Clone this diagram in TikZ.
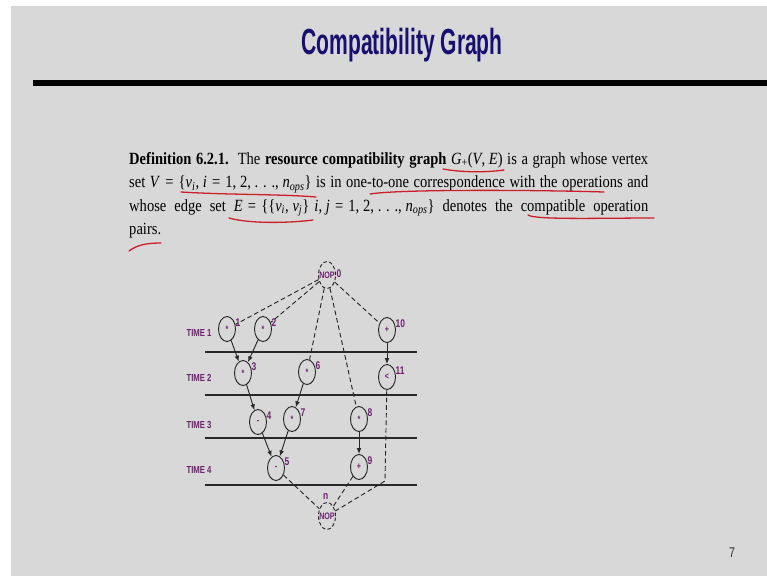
\documentclass[tikz,border=0pt]{standalone}
\usepackage{fontspec}
\setmainfont{Liberation Serif}[FakeStretch=0.85]
\newfontfamily\slidesans{Liberation Sans}[FakeStretch=0.76]
\newfontfamily\titlesans{Liberation Sans}[FakeStretch=0.58]
\usetikzlibrary{arrows.meta,shapes.geometric}
\definecolor{slideGray}{RGB}{216,216,216}
\definecolor{titleNavy}{RGB}{24,16,112}
\definecolor{opPurple}{RGB}{112,32,112}
\definecolor{edgeGray}{RGB}{40,40,40}
\definecolor{penRed}{RGB}{204,30,40}
\newcommand{\thinsp}{\hspace{0.22em}}
\newcommand{\relsp}{\hspace{0.3em}}
\newcommand{\spdots}{.\hspace{0.28em}.\hspace{0.28em}.}
\newcommand{\opstar}{\raisebox{-0.35ex}{*}}
\tikzset{
  op node/.style={ellipse,draw=edgeGray,line width=0.8pt,inner sep=0pt,minimum width=5.1mm,minimum height=7.5mm,text=opPurple,font=\slidesans\bfseries\fontsize{8}{8}\selectfont},
  nop node/.style={op node,dash pattern=on 3pt off 2pt,minimum height=8.1mm},
  op num/.style={anchor=west,inner sep=0.5pt,text=opPurple,font=\slidesans\bfseries\fontsize{9.5}{9.5}\selectfont},
  time label/.style={text=opPurple,font=\slidesans\bfseries\fontsize{8.7}{8.7}\selectfont},
  time line/.style={draw=edgeGray,line width=1.1pt},
  dep arrow/.style={-{Latex[length=5pt,width=4pt]},draw=edgeGray,line width=0.8pt},
  nop edge/.style={draw=edgeGray,line width=0.8pt,dash pattern=on 4pt off 2.5pt},
  def line/.style={anchor=base west,inner sep=0pt,font=\fontsize{14.6}{16}\selectfont},
  pen mark/.style={draw=penRed,line width=1.1pt,line cap=round}
}

\begin{document}
\begin{tikzpicture}[x=0.03cm,y=-0.03cm]
  \useasboundingbox (0,0) rectangle (767,576);
  \fill[white] (0,0) rectangle (767,576);
  \fill[slideGray] (11,6) rectangle (767,576);
  \node[anchor=base,text=titleNavy,font=\titlesans\bfseries\fontsize{31}{31}\selectfont] (title) at (402,54) {Compatibility Graph};
  \fill[black] (33,80) rectangle (767,86);
  % definition text
  \node[def line] (def1) at (129,164) {\makebox[443pt][s]{\textbf{Definition 6.2.1.}\ \ The \textbf{resource compatibility graph} \textit{G}\textsubscript{+}(\textit{V},\thinsp\textit{E}) is a graph whose vertex}};
  \node[def line] (def2) at (129,187.5) {\makebox[443pt][s]{set \textit{V}\relsp=\relsp\{\textit{v}\textsubscript{\textit{i}},\thinsp\textit{i}\relsp=\relsp1,\thinsp2,\thinsp\spdots,\thinsp\textit{n}\textsubscript{\textit{ops}}\} is in one-to-one correspondence with the operations and}};
  \node[def line] (def3) at (129,211) {\makebox[443pt][s]{whose edge set \textit{E}\relsp=\relsp\{\{\textit{v}\textsubscript{\textit{i}},\thinsp\textit{v}\textsubscript{\textit{j}}\}\relsp\textit{i},\thinsp\textit{j}\relsp=\relsp1,\thinsp2,\thinsp\spdots,\thinsp\textit{n}\textsubscript{\textit{ops}}\} denotes the compatible operation}};
  \node[def line] (def4) at (129,234.5) {pairs.};
  \draw[pen mark] (443,169) .. controls (465,173) and (490,172) .. (504,170);
  \draw[pen mark] (181,192) .. controls (230,195) and (280,194) .. (316,197);
  \draw[pen mark] (370,194) .. controls (400,189) and (540,190) .. (604,192);
  \draw[pen mark] (229,218) .. controls (250,224) and (290,223) .. (313,220);
  \draw[pen mark] (528,215) .. controls (535,220) and (600,218) .. (654,218);
  \draw[pen mark] (129,251) .. controls (138,244) and (150,243) .. (161,243);
  % time steps
  \foreach \y in {352,395,438,485}
    \draw[time line] (205,\y) -- (417,\y);
  \foreach \k/\y in {1/333,2/378,3/425,4/470}
    \node[time label] (time\k) at (199,\y) {TIME \k};
  % operations
  \node[nop node,label={[op num]10:0}] (nop0) at (327,275) {\makebox[0pt]{NOP}};
  \node[op node,label={[op num]40:1}] (v1) at (227,329) {\opstar};
  \node[op node,label={[op num]40:2}] (v2) at (263,329) {\opstar};
  \node[op node,label={[op num]40:10}] (v10) at (387,330) {+};
  \node[op node,label={[op num]40:3}] (v3) at (243,373) {\opstar};
  \node[op node,label={[op num]40:6}] (v6) at (307,372) {\opstar};
  \node[op node,label={[op num]40:11}] (v11) at (387,377) {<};
  \node[op node,label={[op num]40:4}] (v4) at (258,422) {-};
  \node[op node,label={[op num]40:7}] (v7) at (292,419) {\opstar};
  \node[op node,label={[op num]40:8}] (v8) at (359,419) {\opstar};
  \node[op node,label={[op num]40:5}] (v5) at (276,468) {-};
  \node[op node,label={[op num]40:9}] (v9) at (359,467) {+};
  \node[nop node,label={[op num,anchor=south,label distance=2pt]95:n}] (nopn) at (327,516) {\makebox[0pt]{NOP}};
  \coordinate (bend11) at (385,481);
  \foreach \v in {v1,v2,v6,v8,v10}
    \draw[nop edge] (nop0) -- (\v);
  \draw[dep arrow] (v1) -- (v3);
  \draw[dep arrow] (v2) -- (v3);
  \draw[dep arrow] (v3) -- (v4);
  \draw[dep arrow] (v6) -- (v7);
  \draw[dep arrow] (v4) -- (v5);
  \draw[dep arrow] (v7) -- (v5);
  \draw[dep arrow] (v8) -- (v9);
  \draw[dep arrow] (v10) -- (v11);
  \foreach \v in {v5,v9}
    \draw[nop edge] (\v) -- (nopn);
  \draw[nop edge] (v11) -- (bend11) -- (nopn);
  \node[text=black!80,font=\slidesans\fontsize{12}{12}\selectfont] (pagenum) at (732,553) {7};
\end{tikzpicture}
\end{document}
